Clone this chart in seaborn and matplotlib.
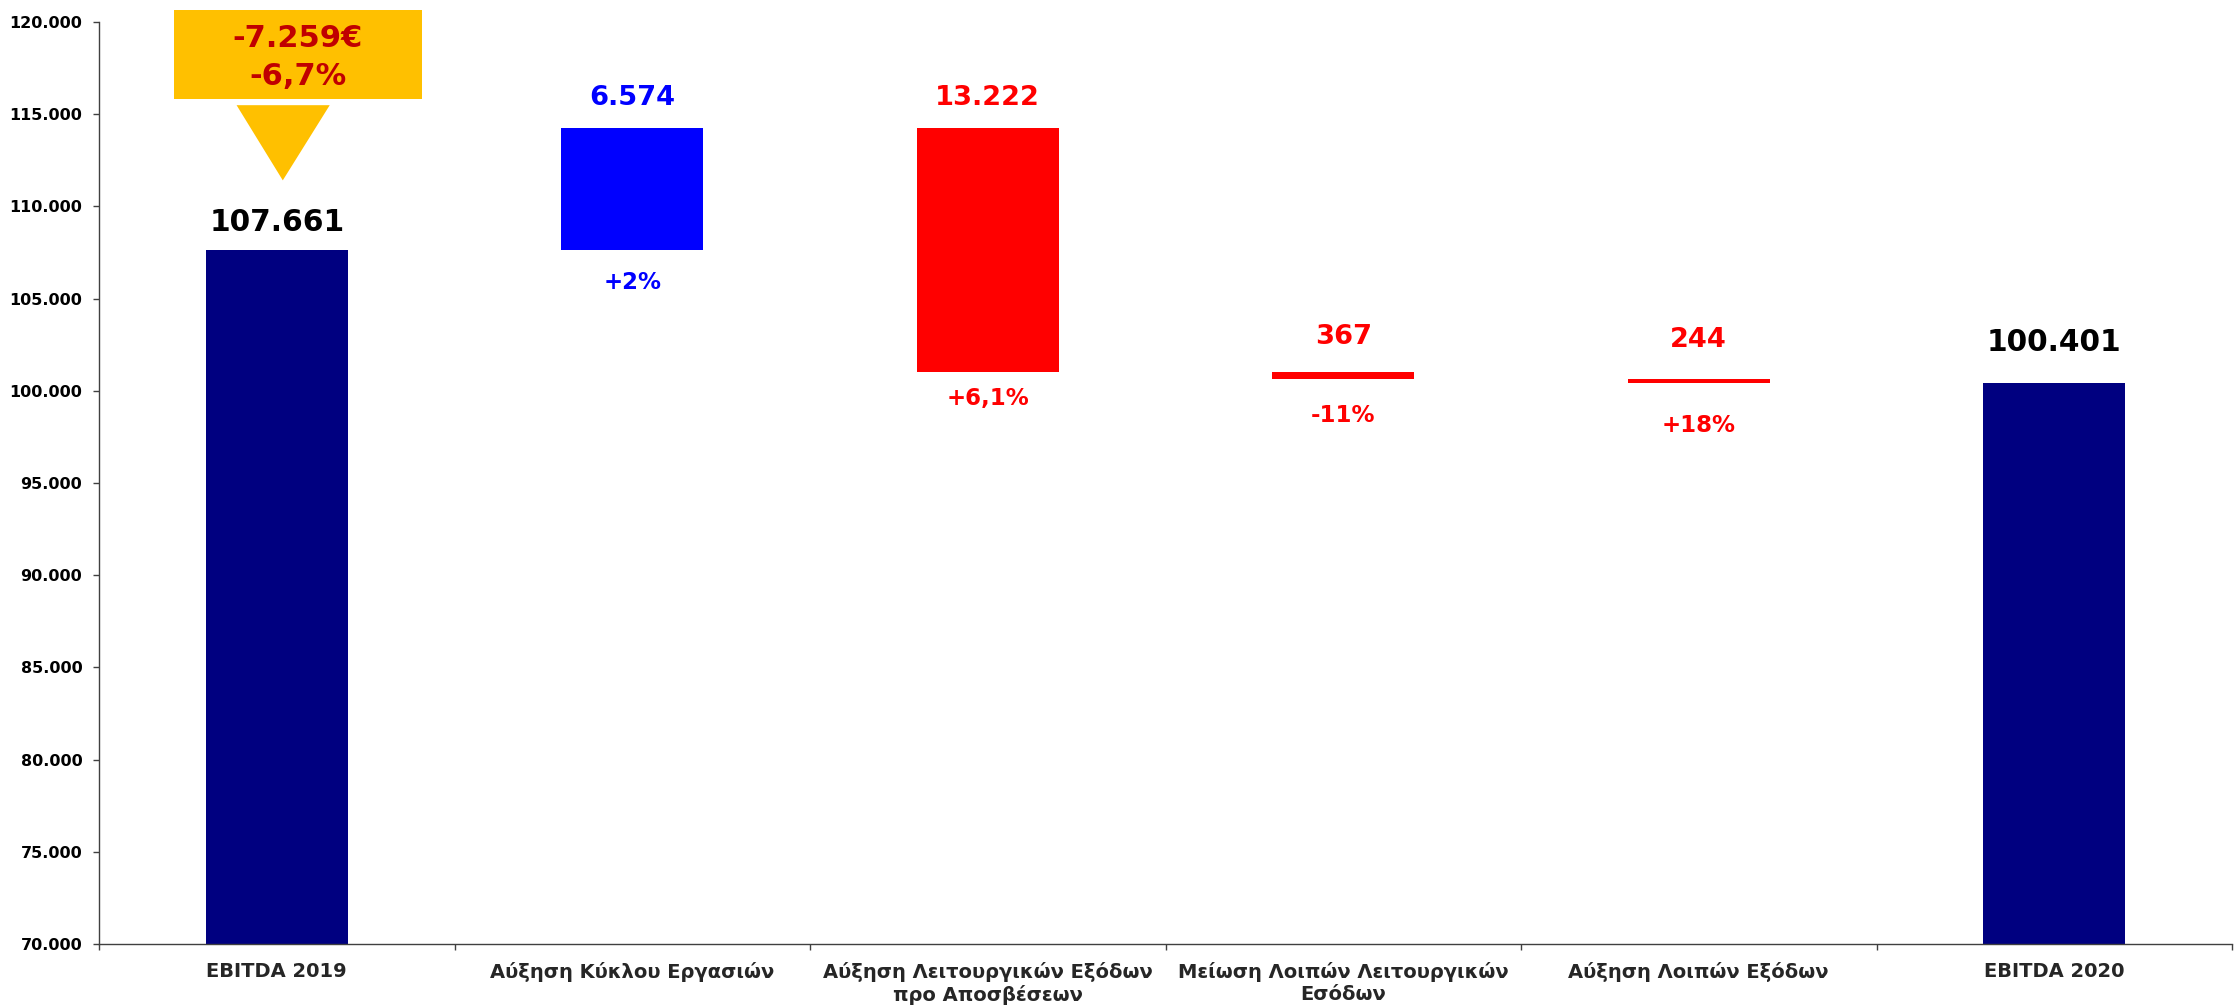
import numpy as np
import pandas as pd
import matplotlib
matplotlib.use("Agg")
import matplotlib.pyplot as plt
import seaborn as sns
from matplotlib.patches import Rectangle, Polygon
from matplotlib.ticker import FixedLocator, FuncFormatter

# ---------------- data ----------------
categories = [
    "EBITDA 2019",
    "Αύξηση Κύκλου Εργασιών",
    "Αύξηση Λειτουργικών Εξόδων\nπρο Αποσβέσεων",
    "Μείωση Λοιπών Λειτουργικών\nΕσόδων",
    "Αύξηση Λοιπών Εξόδων",
    "EBITDA 2020",
]
ebitda_2019 = 107661
changes = [6574, -13222, -367, -244]
ebitda_2020 = 100401
value_labels = ["107.661", "6.574", "13.222", "367", "244", "100.401"]
pct_labels = ["", "+2%", "+6,1%", "-11%", "+18%", ""]
callout_lines = ["-7.259€", "-6,7%"]
y_ticks = list(range(70000, 120001, 5000))

# ---------------- style ----------------
bar_colors = ["#000080", "#0000FF", "#FF0000", "#FF0000", "#FF0000", "#000080"]
label_colors = ["#000000", "#0000FF", "#FF0000", "#FF0000", "#FF0000", "#000000"]
value_offsets = [13, 16.6, 16.6, 20.5, 23, 23.5]   # points above bar top (baseline)
pct_offsets = [0, 15.5, 11, 18, 22, 0]              # points below bar bottom (top of text)
value_sizes = [21.3, 19.6, 19.6, 19.6, 19.6, 21.3]

sns.set_theme(style="white")
plt.rcParams["font.family"] = ["DejaVu Sans"]
plt.rcParams["font.weight"] = "bold"

# ---------------- waterfall geometry from data ----------------
bottoms = [0]
heights = [ebitda_2019]
level = ebitda_2019
for c in changes:
    new = level + c
    bottoms.append(min(level, new))
    heights.append(abs(c))
    level = new
bottoms.append(0)
heights.append(ebitda_2020)
tops = [b + h for b, h in zip(bottoms, heights)]

df = pd.DataFrame({"cat": categories, "height": heights})

W, H = 2236, 1005
fig = plt.figure(figsize=(W / 100, H / 100), dpi=100)
ax = fig.add_axes([99 / W, 61 / H, (2232 - 99) / W, (944 - 22) / H])

sns.barplot(data=df, x="cat", y="height", hue="cat",
            palette=dict(zip(categories, bar_colors)), saturation=1,
            width=0.4, legend=False, linewidth=0, ax=ax)
for patch, b in zip(ax.patches, bottoms):
    patch.set_y(b)

ax.set_ylim(70000, 120000)
ax.set_xlim(-0.5, len(categories) - 0.5)
ax.set_xlabel("")
ax.set_ylabel("")

for s in ["top", "right"]:
    ax.spines[s].set_visible(False)
for s in ["left", "bottom"]:
    ax.spines[s].set_color("#404040")
    ax.spines[s].set_linewidth(1.0)

ax.yaxis.set_major_locator(FixedLocator(y_ticks))
ax.yaxis.set_major_formatter(FuncFormatter(lambda v, p: f"{v:,.0f}".replace(",", ".")))
ax.tick_params(axis="y", direction="out", length=4, width=1, color="#404040",
               pad=8, labelsize=11.5, labelcolor="black", left=True)
ax.set_xticks(range(len(categories)))
ax.set_xticklabels(categories, fontsize=14, fontweight="bold", linespacing=1.2)
ax.tick_params(axis="x", which="major", length=0, pad=13)
ax.set_xticks(np.arange(-0.5, len(categories), 1.0), minor=True)
ax.tick_params(axis="x", which="minor", direction="out", length=4, width=1,
               color="#404040", bottom=True)
for t in ax.get_yticklabels():
    t.set_fontweight("bold")

# value labels
for i in range(len(categories)):
    ax.annotate(value_labels[i], xy=(i, tops[i]), xytext=(0, value_offsets[i]),
                textcoords="offset points", ha="center", va="baseline",
                fontsize=value_sizes[i], fontweight="bold",
                color=label_colors[i])
    if pct_labels[i]:
        ax.annotate(pct_labels[i], xy=(i, bottoms[i]), xytext=(0, -pct_offsets[i]),
                    textcoords="offset points", ha="center", va="top",
                    fontsize=16.5, fontweight="bold", color=label_colors[i])

# callout (box + arrow) above first bar
ax.add_patch(Rectangle((-0.29, 115815), 0.698, 4837, facecolor="#FFC000",
                       edgecolor="none", clip_on=False, zorder=3))
ax.add_patch(Polygon([(-0.113, 115489), (0.149, 115489), (0.017, 111413)],
                     closed=True, facecolor="#FFC000", edgecolor="none",
                     clip_on=False, zorder=3))
ax.text(0.059, 118641, callout_lines[0], ha="center", va="baseline",
        fontsize=22, fontweight="bold", color="#C00000", zorder=4, clip_on=False)
ax.text(0.059, 116576, callout_lines[1], ha="center", va="baseline",
        fontsize=22, fontweight="bold", color="#C00000", zorder=4, clip_on=False)

fig.savefig("out.png", dpi=100)
